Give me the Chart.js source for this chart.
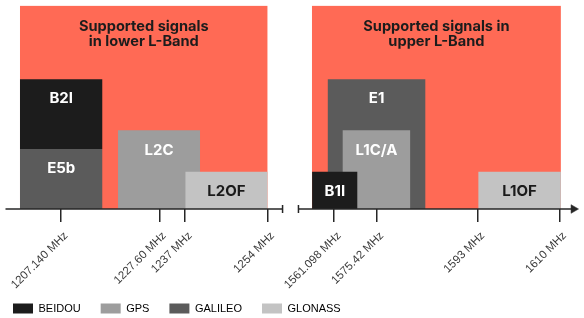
<!DOCTYPE html>
<html><head><meta charset="utf-8">
<script src="https://cdn.jsdelivr.net/npm/chart.js@4.4.1/dist/chart.umd.min.js"></script>
<style>html,body{margin:0;padding:0;background:#fff;}canvas{display:block;}</style>
</head><body>
<canvas id="c" width="584" height="318"></canvas>
<script>
// ---- data (schematic position units along the axis; heights in schematic units) ----
const systems = ['BEIDOU', 'GPS', 'GALILEO', 'GLONASS'];

const bandTitles = ['Supported signals\nin lower L-Band', 'Supported signals in\nupper L-Band'];
const bandStart = [14.5, 308.5];
const bandEnd = [264, 559.3];
const bandTop = 207;

const signalNames   = ['B2I', 'E5b', 'L2C', 'L2OF', 'E1', 'L1C/A', 'B1I', 'L1OF'];
const signalSystems = ['BEIDOU', 'GALILEO', 'GPS', 'GLONASS', 'GALILEO', 'GPS', 'BEIDOU', 'GLONASS'];
const signalStart   = [14.5, 14.5, 113.3, 181, 324.3, 339.3, 308.7, 476];
const signalEnd     = [97.7, 97.7, 196, 264, 423, 407.7, 354.5, 559.3];
const signalBase    = [61, 0, 0, 0, 0, 0, 0, 0];
const signalTop     = [132, 61, 80, 38, 132, 80, 38, 38];

const tickValues = [56, 155, 181, 264, 331, 374, 475.7, 558];
const tickLabels = ['1207.140 MHz', '1227.60 MHz', '1237 MHz', '1254 MHz', '1561.098 MHz', '1575.42 MHz', '1593 MHz', '1610 MHz'];

const axisLower = [0, 279];
const axisUpper = [295, 572];

// ---- styles ----
const systemColors = { BEIDOU: '#1c1c1c', GPS: '#9d9d9d', GALILEO: '#5b5b5b', GLONASS: '#c3c3c3' };
const darkLabelSystems = ['GLONASS'];
const bandColor = '#ff6a55';
const axisColor = '#262626';
const LABEL_DROP = 20, TITLE_DROP = 21, TITLE_LINE = 16;

const datasets = [];
bandTitles.forEach((t, i) => {
  datasets.push({
    data: [{x: bandStart[i], y: 0}, {x: bandStart[i], y: bandTop}, {x: bandEnd[i], y: bandTop}, {x: bandEnd[i], y: 0}],
    fill: {value: 0}, backgroundColor: bandColor, borderColor: 'transparent', borderWidth: 0, pointRadius: 0
  });
});
signalNames.forEach((n, i) => {
  const c = systemColors[signalSystems[i]];
  datasets.push({
    data: [{x: signalStart[i], y: signalBase[i]}, {x: signalStart[i], y: signalTop[i]}, {x: signalEnd[i], y: signalTop[i]}, {x: signalEnd[i], y: signalBase[i]}],
    fill: {value: signalBase[i]}, backgroundColor: c, borderColor: 'transparent', borderWidth: 0, pointRadius: 0
  });
});
datasets.push({
  data: axisLower.map(v => ({x: v, y: 0})), fill: false, clip: false,
  borderColor: axisColor, borderWidth: 1.5,
  pointStyle: ['line', 'line'], pointRadius: [0, 4], pointRotation: 90,
  pointBorderColor: axisColor, pointBackgroundColor: axisColor, pointBorderWidth: 1.5
});
datasets.push({
  data: axisUpper.map(v => ({x: v, y: 0})), fill: false, clip: false,
  borderColor: axisColor, borderWidth: 1.5,
  pointStyle: ['line', 'triangle'], pointRadius: [4, 5], pointRotation: 90,
  pointBorderColor: axisColor, pointBackgroundColor: axisColor, pointBorderWidth: [1.5, 0.5]
});
// later in list = drawn on top
datasets.forEach((d, i) => { d.order = datasets.length - i; d.tension = 0; });

const labelPlugin = {
  id: 'signalLabels',
  afterLayout(chart) {
    const lg = chart.legend;
    lg.left -= 11; lg.right -= 11; lg.top += 6; lg.bottom += 6;
    // let the rotated tick labels extend below the axis box without being clipped
    const xs = chart.scales.x;
    xs.bottom += 30; xs.height += 30;
  },
  afterDatasetsDraw(chart) {
    const {ctx, scales: {x, y}} = chart;
    ctx.save();
    ctx.textAlign = 'center';
    ctx.textBaseline = 'middle';
    ctx.font = '700 15px Inter';
    signalNames.forEach((n, i) => {
      ctx.fillStyle = darkLabelSystems.includes(signalSystems[i]) ? '#1a1a1a' : '#ffffff';
      ctx.fillText(n, x.getPixelForValue((signalStart[i] + signalEnd[i]) / 2), y.getPixelForValue(signalTop[i] - LABEL_DROP));
    });
    ctx.font = '700 14.6px Inter';
    ctx.fillStyle = '#1c1c1c';
    bandTitles.forEach((t, i) => {
      t.split('\n').forEach((line, j) => {
        ctx.fillText(line, x.getPixelForValue((bandStart[i] + bandEnd[i]) / 2), y.getPixelForValue(bandTop - TITLE_DROP - j * TITLE_LINE));
      });
    });
    ctx.restore();
  }
};

Chart.defaults.font.family = "'Liberation Sans', Arial, sans-serif";

new Chart(document.getElementById('c'), {
  type: 'line',
  data: { datasets },
  options: {
    responsive: false,
    animation: false,
    devicePixelRatio: 1,
    layout: { padding: { top: 2, left: 4, right: 3, bottom: 0 } },
    plugins: {
      tooltip: { enabled: false },
      legend: {
        position: 'bottom', align: 'start',
        labels: {
          boxWidth: 20, boxHeight: 10, padding: 20, color: '#333',
          font: { size: 11 },
          generateLabels: () => systems.map((s, i) => ({
            text: s, fillStyle: systemColors[s], strokeStyle: systemColors[s], lineWidth: 0, hidden: false, index: i
          }))
        }
      }
    },
    scales: {
      x: {
        type: 'linear', min: 0, max: 577,
        grid: { display: true, drawOnChartArea: false, drawTicks: true, tickLength: 13, color: axisColor, lineWidth: 1.5 },
        border: { display: false },
        afterBuildTicks: (scale) => { scale.ticks = tickValues.map(v => ({ value: v })); },
        afterFit: (scale) => { scale.height = 68; },
        ticks: {
          autoSkip: false, minRotation: 45, maxRotation: 45, color: '#3a3a3a', font: { size: 11.5 },
          padding: 7, labelOffset: 5,
          callback: (value) => tickLabels[tickValues.indexOf(value)]
        }
      },
      y: { display: false, min: 0, max: 207 }
    }
  },
  plugins: [labelPlugin]
});
</script>
</body></html>
